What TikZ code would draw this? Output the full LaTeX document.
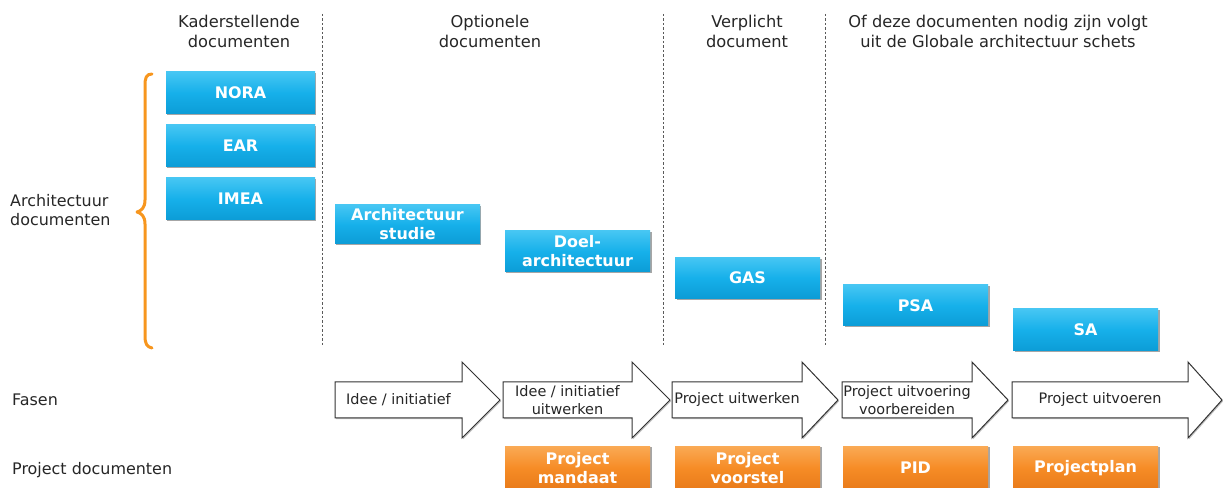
\documentclass[tikz,border=0pt]{standalone}
\usepackage{fontspec}
\setmainfont{DejaVu Sans}
\usetikzlibrary{shadows}

\definecolor{docblue}{RGB}{22,176,234}
\definecolor{docbluetop}{RGB}{70,198,243}
\definecolor{docbluebot}{RGB}{12,156,214}
\definecolor{docorange}{RGB}{246,140,38}
\definecolor{docorangetop}{RGB}{250,170,85}
\definecolor{docorangebot}{RGB}{232,122,25}
\definecolor{bracecol}{RGB}{247,150,30}
\definecolor{sepgray}{RGB}{90,90,90}

\tikzset{
  docbox/.style={draw=none, minimum width=145bp, inner sep=0pt, align=center,
    text=white, font=\bfseries\fontsize{16}{19}\selectfont,
    drop shadow={shadow xshift=1.5pt, shadow yshift=-1.5pt, opacity=0.35, fill=black}},
  archbox/.style={docbox, top color=docbluetop, bottom color=docbluebot, middle color=docblue},
  projbox/.style={docbox, top color=docorangetop, bottom color=docorangebot, middle color=docorange},
  header/.style={align=center, inner sep=0pt, text=black!85, font=\fontsize{16.3}{20}\selectfont},
  rowlabel/.style={anchor=west, align=left, inner sep=0pt, text=black!85, font=\fontsize{16}{19}\selectfont},
  phase/.style={draw=black!80, line width=1bp, fill=white,
    drop shadow={shadow xshift=1.2pt, shadow yshift=-1.2pt, opacity=0.25, fill=black}},
  phasetext/.style={align=center, inner sep=0pt, text=black!85, font=\fontsize{14.5}{18}\selectfont},
  separator/.style={draw=sepgray, line width=0.9bp, dash pattern=on 2.5bp off 2bp},
  bracket/.style={draw=bracecol, line width=3bp, line cap=round, line join=round}
}

% a block arrow for one phase: name, left x, head base x, tip x, text
\newcommand\phasearrow[5]{%
  \draw[phase] (#2,382) -- (#3,382) -- (#3,362) -- (#4,400) -- (#3,438) -- (#3,418) -- (#2,418) -- cycle;
  \node[phasetext] (#1) at ({(#2+#3)/2},400) {#5};
}

\begin{document}
\begin{tikzpicture}[x=1bp, y=-1bp]
\useasboundingbox (0,0) rectangle (1223,488);
\clip (0,0) rectangle (1223,488);

% column headers
\node[header] (hkader) at (239,31) {Kaderstellende\\documenten};
\node[header] (hoptie) at (490,31) {Optionele\\documenten};
\node[header] (hverpl) at (747,31) {Verplicht\\document};
\node[header] (hglob)  at (998,31) {Of deze documenten nodig zijn volgt\\uit de Globale architectuur schets};

% column separators
\draw[separator] (322,14) -- (322,347);
\draw[separator] (663,14) -- (663,347);
\draw[separator] (825,14) -- (825,347);

% row labels
\node[rowlabel] (larch) at (10,210) {Architectuur\\documenten};
\node[rowlabel] (lfase) at (12,400) {Fasen};
\node[rowlabel] (lproj) at (12,470) {Project documenten};

% curly bracket around the architecture rows
\draw[bracket] (152,74) .. controls (146,74) and (145,78) .. (145,86)
  -- (145,200) .. controls (145,208) and (141,211) .. (137,212)
  .. controls (141,213) and (145,216) .. (145,224)
  -- (145,336) .. controls (145,344) and (147,347) .. (152,348);

% architecture documents
\node[archbox, minimum width=149bp, minimum height=42bp] (nora) at (240.5,93) {NORA};
\node[archbox, minimum width=149bp, minimum height=42bp] (ear)  at (240.5,146) {EAR};
\node[archbox, minimum width=149bp, minimum height=42bp] (imea) at (240.5,199) {IMEA};
\node[archbox, minimum height=39bp] (astudie) at (407.5,224.5) {Architectuur\\studie};
\node[archbox, minimum height=41bp] (doel)    at (577.5,251.5) {Doel-\\architectuur};
\node[archbox, minimum height=41bp] (gas)     at (747.5,278) {GAS};
\node[archbox, minimum height=41bp] (psa)     at (915.5,305.5) {PSA};
\node[archbox, minimum height=42bp] (sa)      at (1085.5,330) {SA};

% phases
\phasearrow{f1}{335}{462}{500}{Idee / initiatief}
\phasearrow{f2}{503}{632}{670}{Idee / initiatief\\uitwerken}
\phasearrow{f3}{672}{802}{838}{Project uitwerken}
\phasearrow{f4}{842}{972}{1008}{Project uitvoering\\voorbereiden}
\phasearrow{f5}{1012}{1188}{1222}{Project uitvoeren}

% project documents
\node[projbox, minimum height=44bp] (mandaat)  at (577.5,468) {Project\\mandaat};
\node[projbox, minimum height=44bp] (voorstel) at (747.5,468) {Project\\voorstel};
\node[projbox, minimum height=44bp] (pid)      at (915.5,468) {PID};
\node[projbox, minimum height=44bp] (plan)     at (1085.5,468) {Projectplan};
\end{tikzpicture}
\end{document}
